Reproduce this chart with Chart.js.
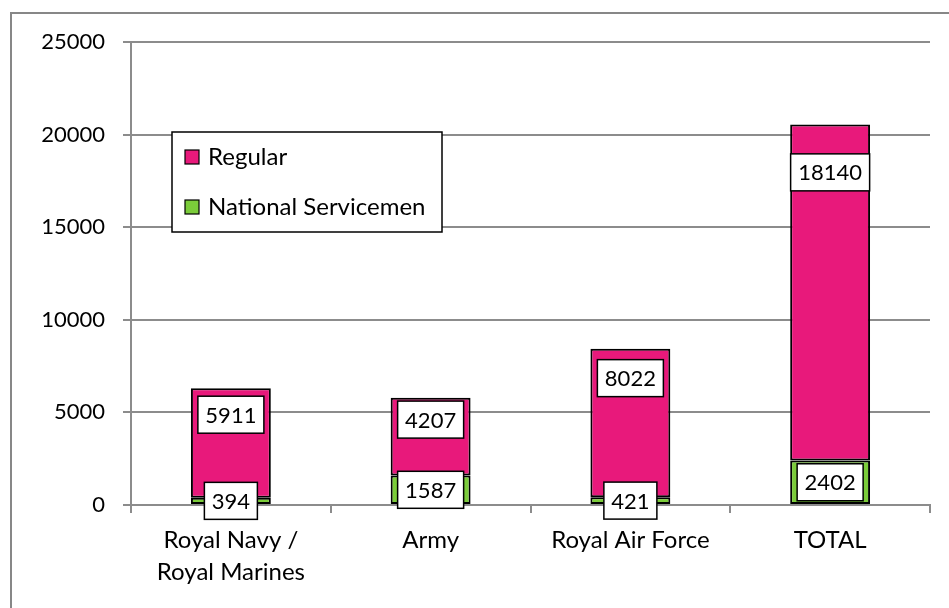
<!DOCTYPE html>
<html>
<head>
<meta charset="utf-8">
<script src="https://cdn.jsdelivr.net/npm/chart.js@4"></script>
<style>
  html, body { margin: 0; padding: 0; background: #fff; }
  #wrap { width: 949px; height: 608px; position: relative; }
</style>
</head>
<body>
<div id="wrap"><canvas id="chart" width="949" height="608"></canvas></div>
<script>
var categories = [['Royal Navy /', 'Royal Marines'], 'Army', 'Royal Air Force', 'TOTAL'];
var regular = [5911, 4207, 8022, 18140];
var nationalServicemen = [394, 1587, 421, 2402];
var yTicks = [0, 5000, 10000, 15000, 20000, 25000];

// where the Regular labels sit (value units, as placed in the original)
var regularLabelAt = [4876, 4611, 6850, 17961];

var pink = '#E8197B';
var green = '#7BCC3A';
var grey = '#8C8C8C';
var fontFamily = 'Lato, "Open Sans", sans-serif';
var numSize = 22;   // numbers
var textSize = 24;  // words

// white background + the frame round the chart
var framePlugin = {
    id: 'frame',
    beforeDraw: function (chart) {
        var ctx = chart.ctx;
        ctx.save();
        ctx.fillStyle = '#fff';
        ctx.fillRect(0, 0, chart.width, chart.height);
        ctx.strokeStyle = '#878787';
        ctx.lineWidth = 2;
        ctx.beginPath();
        ctx.moveTo(11, chart.height + 5);
        ctx.lineTo(11, 13);
        ctx.lineTo(chart.width + 5, 13);
        ctx.stroke();
        ctx.restore();
    }
};

function labelBox(ctx, text, cx, cy) {
    var w = Math.round(ctx.measureText(text).width + 15);
    var h = 37;
    ctx.fillStyle = '#fff';
    ctx.fillRect(cx - w / 2, cy - h / 2, w, h);
    ctx.strokeStyle = '#000';
    ctx.lineWidth = 1.5;
    ctx.strokeRect(cx - w / 2, cy - h / 2, w, h);
    ctx.fillStyle = '#000';
    ctx.fillText(text, cx, cy + 1);
}

var valueLabels = {
    id: 'valueLabels',
    afterDatasetsDraw: function (chart) {
        var ctx = chart.ctx;
        var yScale = chart.scales.y;
        ctx.save();
        ctx.font = numSize + 'px ' + fontFamily;
        ctx.textAlign = 'center';
        ctx.textBaseline = 'middle';
        chart.getDatasetMeta(0).data.forEach(function (bar, i) {
            labelBox(ctx, String(nationalServicemen[i]), bar.x, (bar.y + bar.base) / 2);
        });
        chart.getDatasetMeta(1).data.forEach(function (bar, i) {
            labelBox(ctx, String(regular[i]), bar.x, yScale.getPixelForValue(regularLabelAt[i]));
        });
        ctx.restore();
    }
};

var boxLegend = {
    id: 'boxLegend',
    afterDraw: function (chart) {
        var ctx = chart.ctx;
        var x = 172, y = 132, w = 270, h = 100;
        ctx.save();
        ctx.fillStyle = '#fff';
        ctx.fillRect(x, y, w, h);
        ctx.strokeStyle = '#000';
        ctx.lineWidth = 1.5;
        ctx.strokeRect(x, y, w, h);
        ctx.font = textSize + 'px ' + fontFamily;
        ctx.textBaseline = 'middle';
        var items = [chart.data.datasets[1], chart.data.datasets[0]];
        items.forEach(function (ds, i) {
            var cy = y + 25 + i * 50;
            ctx.fillStyle = ds.backgroundColor;
            ctx.fillRect(x + 13, cy - 7, 14, 14);
            ctx.strokeStyle = '#000';
            ctx.lineWidth = 1.2;
            ctx.strokeRect(x + 13, cy - 7, 14, 14);
            ctx.fillStyle = '#000';
            ctx.fillText(ds.label, x + 36, cy);
        });
        ctx.restore();
    }
};

var ctx = document.getElementById('chart').getContext('2d');
var chart = new Chart(ctx, {
    type: 'bar',
    data: {
        labels: categories,
        datasets: [
            {
                label: 'National Servicemen',
                data: nationalServicemen,
                backgroundColor: green,
                borderColor: '#000',
                borderWidth: 2,
                borderSkipped: false
            },
            {
                label: 'Regular',
                data: regular,
                backgroundColor: pink,
                borderColor: '#000',
                borderWidth: 2,
                borderSkipped: false
            }
        ]
    },
    options: {
        responsive: false,
        animation: false,
        layout: { padding: { top: 42, right: 19, left: 0, bottom: 0 } },
        datasets: { bar: { categoryPercentage: 1, barPercentage: 0.4 } },
        plugins: {
            legend: { display: false },
            tooltip: { enabled: false }
        },
        scales: {
            x: {
                stacked: true,
                afterFit: function (scale) { scale.height = 103; },
                grid: { offset: true, drawOnChartArea: false, color: grey, lineWidth: 2, tickLength: 8 },
                border: { color: grey, width: 2 },
                ticks: {
                    color: '#000',
                    padding: 11,
                    font: { family: fontFamily, size: textSize, lineHeight: 1.34 }
                }
            },
            y: {
                stacked: true,
                min: 0,
                max: 25000,
                afterFit: function (scale) { scale.width = 131; },
                afterBuildTicks: function (scale) {
                    scale.ticks = yTicks.map(function (v) { return { value: v }; });
                },
                grid: { color: grey, lineWidth: 2, tickLength: 8 },
                border: { color: grey, width: 2 },
                ticks: {
                    color: '#000',
                    padding: 18,
                    font: { family: fontFamily, size: numSize },
                    callback: function (v) { return String(v); }
                }
            }
        }
    },
    plugins: [framePlugin, valueLabels, boxLegend]
});
</script>
</body>
</html>
